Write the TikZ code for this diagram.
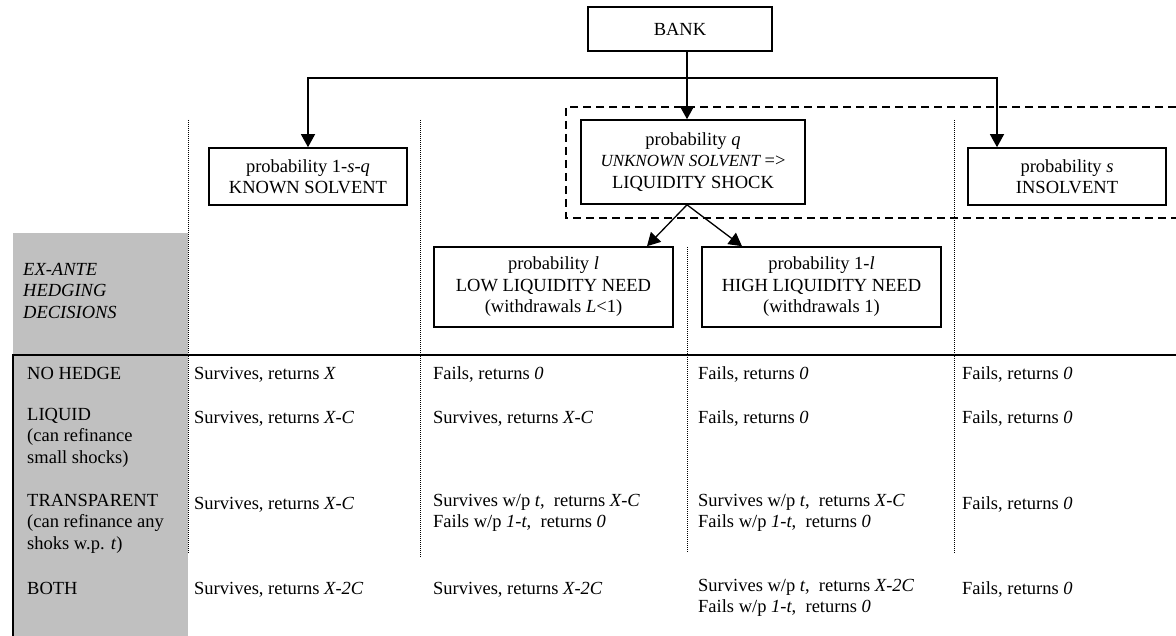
\documentclass[tikz,border=0pt]{standalone}
\usepackage{fontspec}
\setmainfont{Liberation Serif}
\usetikzlibrary{arrows.meta}
\definecolor{panelgray}{RGB}{192,192,192}

\begin{document}
\begin{tikzpicture}[
    x=1pt, y=-1pt,
    every node/.style={font=\fontsize{18.5}{21.5}\selectfont},
    block/.style={rectangle, draw, line width=1.6pt, inner sep=0pt, align=center},
    arrow/.style={-{Triangle[length=13pt,width=14pt]}, line width=1.3pt},
    sep/.style={densely dotted, line width=1pt},
    dashbox/.style={dash pattern=on 8pt off 5pt, line width=1.5pt},
    cell/.style={anchor=north west, align=left, inner sep=0pt, execute at begin node=\strut}
]
\useasboundingbox (0,0) rectangle (1176,636);

% Grey panel and table frame
\fill[panelgray] (13,233) rectangle (188,636);
\draw[line width=2pt] (13,636) -- (13,355) -- (1176,355);

% Column separators
\draw[sep] (188,120) -- (188,553);
\draw[sep] (420,120) -- (420,557);
\draw[sep] (687,247) -- (687,553);
\draw[sep] (954,120) -- (954,553);

% Unknown-solvent region
\draw[dashbox] (1176,107) -| (566,218) -- (1176,218);

% Tree
\node[block, minimum width=184pt, minimum height=44pt] (bank) at (680,29) {BANK};
\node[block, minimum width=198pt, minimum height=57pt] (solvent) at (308,176.5)
    {probability 1-\textit{s}-\textit{q}\\KNOWN SOLVENT};
\node[block, minimum width=224pt, minimum height=84pt] (shock) at (693,162)
    {probability \textit{q}\\{\fontsize{17}{21.5}\selectfont\itshape UNKNOWN SOLVENT} =>\\LIQUIDITY SHOCK};
\node[block, minimum width=198pt, minimum height=57pt] (insolvent) at (1067,176.5)
    {probability \textit{s}\\INSOLVENT};
\node[block, minimum width=239pt, minimum height=80pt] (lowneed) at (553.5,287)
    {probability \textit{l}\\LOW LIQUIDITY NEED\\(withdrawals \textit{L}<1)};
\node[block, minimum width=239pt, minimum height=80pt] (highneed) at (821.5,287)
    {probability 1-\textit{l}\\HIGH LIQUIDITY NEED\\(withdrawals 1)};

% Arrows
\coordinate (fork) at (687,78);
\draw[arrow] ([xshift=7pt]bank.south) -- ([xshift=-6pt]shock.north);
\draw[arrow] (fork) -| (solvent.north);
\draw[arrow] (fork) -| ([xshift=-70pt]insolvent.north);
\draw[arrow] ([xshift=-6pt]shock.south) -- ([xshift=93.5pt]lowneed.north);
\draw[arrow] ([xshift=-6pt]shock.south) -- ([xshift=-79.5pt]highneed.north);

% Hedging decisions (first baselines at 278, 379, 423, 509, 594)
\node[cell, font=\fontsize{18.5}{21.5}\selectfont\itshape] (exante) at (23,263) {EX-ANTE\\HEDGING\\DECISIONS};
\node[cell] (h_no) at (27,364) {NO HEDGE};
\node[cell] (h_liq) at (27,408) {LIQUID\\(can refinance\\small shocks)};
\node[cell] (h_tr) at (27,494) {TRANSPARENT\\(can refinance any\\shoks w.p. \textit{t})};
\node[cell] (h_both) at (27,579) {BOTH};

% Outcomes: no hedge
\node[cell] (no_ks) at (194,364) {Survives, returns \textit{X}};
\node[cell] (no_lo) at (433,364) {Fails, returns \textit{0}};
\node[cell] (no_hi) at (698,364) {Fails, returns \textit{0}};
\node[cell] (no_ins) at (962,364) {Fails, returns \textit{0}};

% Outcomes: liquid
\node[cell] (liq_ks) at (194,408) {Survives, returns \textit{X-C}};
\node[cell] (liq_lo) at (433,408) {Survives, returns \textit{X-C}};
\node[cell] (liq_hi) at (698,408) {Fails, returns \textit{0}};
\node[cell] (liq_ins) at (962,408) {Fails, returns \textit{0}};

% Outcomes: transparent
\node[cell] (tr_ks) at (194,494) {Survives, returns \textit{X-C}};
\node[cell] (tr_lo) at (433,494) {Survives w/p \textit{t},~ returns \textit{X-C}\\Fails w/p \textit{1-t},~ returns \textit{0}};
\node[cell] (tr_hi) at (698,494) {Survives w/p \textit{t},~ returns \textit{X-C}\\Fails w/p \textit{1-t},~ returns \textit{0}};
\node[cell] (tr_ins) at (962,494) {Fails, returns \textit{0}};

% Outcomes: both
\node[cell] (both_ks) at (194,579) {Survives, returns \textit{X-2C}};
\node[cell] (both_lo) at (433,579) {Survives, returns \textit{X-2C}};
\node[cell] (both_hi) at (698,579) {Survives w/p \textit{t},~ returns \textit{X-2C}\\Fails w/p \textit{1-t},~ returns \textit{0}};
\node[cell] (both_ins) at (962,579) {Fails, returns \textit{0}};

\end{tikzpicture}
\end{document}
